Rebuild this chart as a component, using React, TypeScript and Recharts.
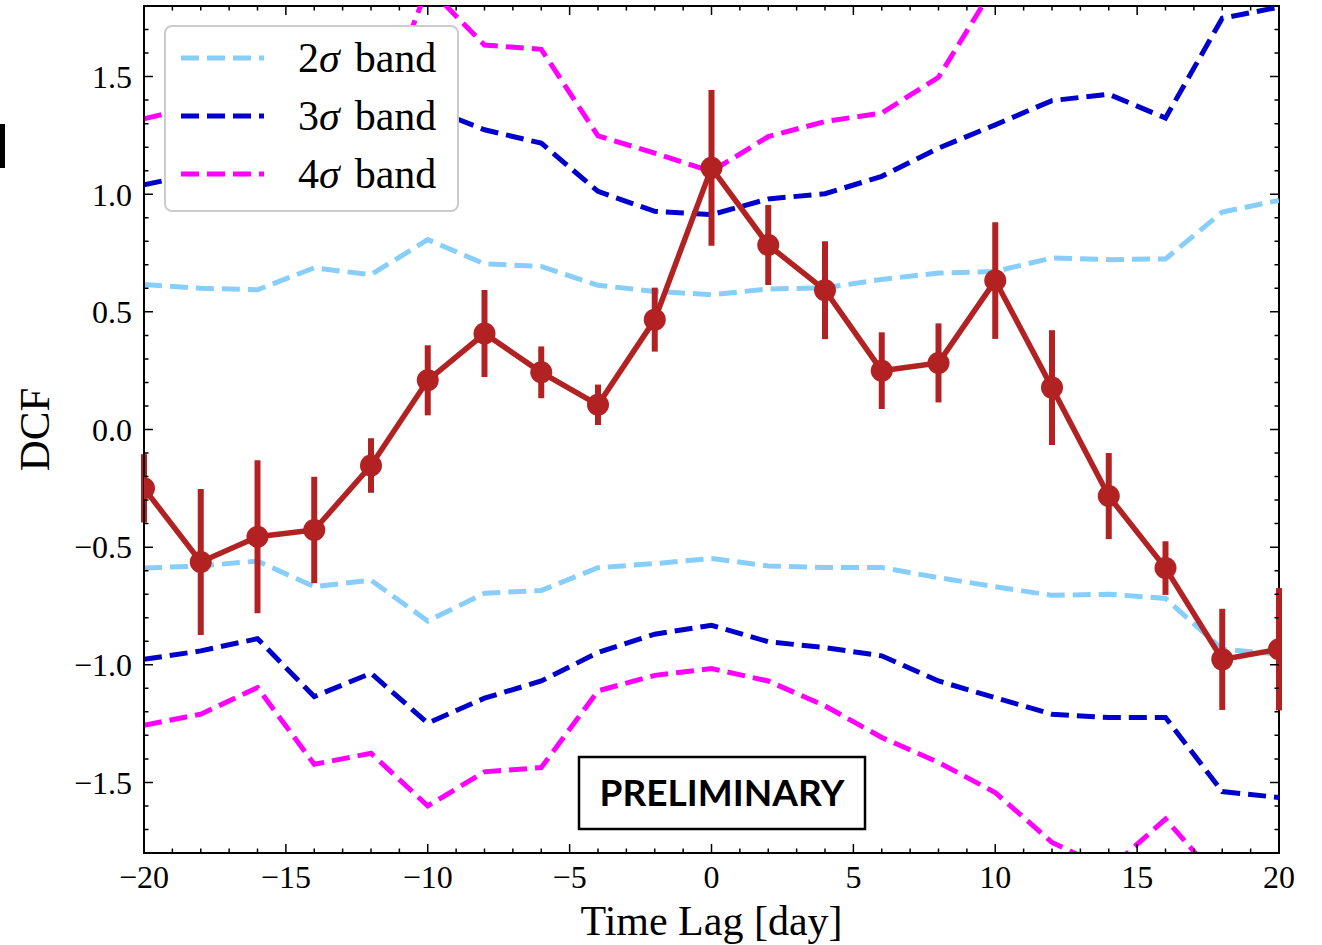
import React from "react";
import { LineChart, Line, XAxis, YAxis, ErrorBar, Label, ReferenceLine, ReferenceArea } from "recharts";

// lag grid (days)
const lags = [-20, -18, -16, -14, -12, -10, -8, -6, -4, -2, 0, 2, 4, 6, 8, 10, 12, 14, 16, 18, 20];

// discrete correlation function and its 1-sigma errors
const dcf = [-0.25, -0.563, -0.456, -0.427, -0.153, 0.209, 0.408, 0.243, 0.105, 0.467, 1.112, 0.784, 0.592, 0.25, 0.283, 0.633, 0.178, -0.283, -0.589, -0.977, -0.934];
const dcfErr = [0.145, 0.31, 0.325, 0.226, 0.116, 0.149, 0.185, 0.11, 0.086, 0.136, 0.331, 0.17, 0.208, 0.163, 0.168, 0.248, 0.244, 0.183, 0.114, 0.215, 0.26];

// significance bands from simulated light curves
const band2Up = [0.616, 0.6, 0.594, 0.687, 0.658, 0.807, 0.704, 0.693, 0.613, 0.587, 0.573, 0.597, 0.602, 0.638, 0.665, 0.672, 0.729, 0.722, 0.725, 0.924, 0.974];
const band2Lo = [-0.589, -0.58, -0.559, -0.668, -0.641, -0.814, -0.696, -0.684, -0.587, -0.57, -0.548, -0.58, -0.587, -0.587, -0.63, -0.668, -0.705, -0.7, -0.718, -0.934, -0.955];
const band3Up = [1.04, 1.09, 1.12, 1.26, 1.21, 1.37, 1.274, 1.217, 1.012, 0.927, 0.913, 0.98, 1.002, 1.076, 1.196, 1.295, 1.398, 1.425, 1.324, 1.748, 1.795];
const band3Lo = [-0.977, -0.941, -0.889, -1.135, -1.036, -1.248, -1.142, -1.069, -0.948, -0.87, -0.832, -0.902, -0.927, -0.962, -1.069, -1.14, -1.21, -1.224, -1.224, -1.539, -1.564];
const band4Up = [1.32, 1.38, 1.52, 1.47, 1.25, 1.88, 1.634, 1.616, 1.248, 1.175, 1.097, 1.245, 1.309, 1.345, 1.497, 1.89, 2.1, 2.2, 2.05, 2.35, 2.5];
const band4Lo = [-1.257, -1.21, -1.097, -1.423, -1.376, -1.6, -1.455, -1.437, -1.111, -1.045, -1.016, -1.069, -1.175, -1.309, -1.415, -1.543, -1.755, -1.87, -1.656, -1.93, -2.05];

// axis ticks
const xMajorTicks = [-20, -15, -10, -5, 0, 5, 10, 15, 20];
const xMinorTicks = [-19, -18, -17, -16, -14, -13, -12, -11, -9, -8, -7, -6, -4, -3, -2, -1, 1, 2, 3, 4, 6, 7, 8, 9, 11, 12, 13, 14, 16, 17, 18, 19];
const yMajorTicks = [-1.5, -1.0, -0.5, 0.0, 0.5, 1.0, 1.5];
const yMinorTicks = [-1.7, -1.6, -1.4, -1.3, -1.2, -1.1, -0.9, -0.8, -0.7, -0.6, -0.4, -0.3, -0.2, -0.1, 0.1, 0.2, 0.3, 0.4, 0.6, 0.7, 0.8, 0.9, 1.1, 1.2, 1.3, 1.4, 1.6, 1.7];

const bands = [
  { label: "2", color: "#87CEFA", up: "b2Up", lo: "b2Lo" },
  { label: "3", color: "#0000CD", up: "b3Up", lo: "b3Lo" },
  { label: "4", color: "#FF00FF", up: "b4Up", lo: "b4Lo" },
];

const W = 1322;
const H = 945;
const MARGIN = { top: 6, right: 43, bottom: 0, left: 0 };
const Y_AXIS_W = 144;
const X_AXIS_H = 92;
const PLOT_W = W - MARGIN.left - MARGIN.right - Y_AXIS_W;
const PLOT_H = H - MARGIN.top - MARGIN.bottom - X_AXIS_H;

const SERIF = '"Liberation Serif", "DejaVu Serif", serif';
const RED = "#B22222";
const DASH = "18 8";
const BAND_W = 5;
const X_DOMAIN: [number, number] = [-20, 20];
const Y_DOMAIN: [number, number] = [-1.8, 1.8];

const fmt = (v: number, digits: number) => {
  const s = Math.abs(v).toFixed(digits);
  return v < 0 ? `\u2212${s}` : s;
};

// a full-length line dashed so that only both ends show: inward ticks on opposite sides
const tickDash = (len: number, span: number) => `${len} ${span - 2 * len} ${len}`;

const tickFont = { fontFamily: SERIF, fontSize: 32, fill: "#000" };
const frame = { stroke: "#000", strokeWidth: 2 };

const XTitle = (props: any) => {
  const vb = props.viewBox || { x: 144, y: 853, width: PLOT_W, height: X_AXIS_H };
  return (
    <text x={vb.x + vb.width / 2} y={vb.y + vb.height - 10} textAnchor="middle" fontFamily={SERIF} fontSize={42} fill="#000">
      Time Lag [day]
    </text>
  );
};

const YTitle = (props: any) => {
  const vb = props.viewBox || { x: 0, y: MARGIN.top, width: Y_AXIS_W, height: PLOT_H };
  const cx = vb.x + 34;
  const cy = vb.y + vb.height / 2;
  return (
    <text x={cx} y={cy} transform={`rotate(-90, ${cx}, ${cy})`} textAnchor="middle" dominantBaseline="central" fontFamily={SERIF} fontSize={43} fill="#000">
      DCF
    </text>
  );
};

export default function App() {
  const data = lags.map((lag, i) => ({
    lag,
    dcf: dcf[i],
    dcfErr: dcfErr[i],
    b2Up: band2Up[i],
    b2Lo: band2Lo[i],
    b3Up: band3Up[i],
    b3Lo: band3Lo[i],
    b4Up: band4Up[i],
    b4Lo: band4Lo[i],
  }));

  return (
    <div style={{ position: "absolute", left: 0, top: 0, width: W, height: H, background: "#fff", overflow: "hidden" }}>
      <LineChart width={W} height={H} data={data} margin={MARGIN}>
        <XAxis xAxisId="x" dataKey="lag" type="number" domain={X_DOMAIN} allowDataOverflow ticks={xMajorTicks} interval={0}
          tickFormatter={(v: number) => fmt(v, 0)} tick={tickFont} tickLine={false} tickSize={0} tickMargin={12} height={X_AXIS_H} axisLine={frame}>
          <Label content={XTitle} />
        </XAxis>
        <YAxis yAxisId="y" type="number" domain={Y_DOMAIN} allowDataOverflow ticks={yMajorTicks} interval={0}
          tickFormatter={(v: number) => fmt(v, 1)} tick={tickFont} tickLine={false} tickSize={0} tickMargin={12} width={Y_AXIS_W} axisLine={frame}>
          <Label content={YTitle} />
        </YAxis>

        {bands.flatMap((b) => [
          <Line key={b.up} xAxisId="x" yAxisId="y" type="linear" dataKey={b.up} stroke={b.color} strokeWidth={BAND_W}
            strokeDasharray={DASH} dot={false} activeDot={false} isAnimationActive={false} />,
          <Line key={b.lo} xAxisId="x" yAxisId="y" type="linear" dataKey={b.lo} stroke={b.color} strokeWidth={BAND_W}
            strokeDasharray={DASH} dot={false} activeDot={false} isAnimationActive={false} />,
        ])}

        <Line xAxisId="x" yAxisId="y" type="linear" dataKey="dcf" stroke={RED} strokeWidth={5.5}
          dot={{ r: 11, fill: RED, stroke: "none" }} activeDot={false} isAnimationActive={false}>
          <ErrorBar dataKey="dcfErr" direction="y" width={0} stroke={RED} strokeWidth={6} isAnimationActive={false} />
        </Line>

        {/* inward ticks, bottom+top and left+right */}
        {xMajorTicks.map((v) => (
          <ReferenceLine key={`xM${v}`} xAxisId="x" yAxisId="y" x={v} stroke="#000" strokeWidth={1.5} strokeDasharray={tickDash(9, PLOT_H)} />
        ))}
        {xMinorTicks.map((v) => (
          <ReferenceLine key={`xm${v}`} xAxisId="x" yAxisId="y" x={v} stroke="#000" strokeWidth={1.5} strokeDasharray={tickDash(4.5, PLOT_H)} />
        ))}
        {yMajorTicks.map((v) => (
          <ReferenceLine key={`yM${v}`} xAxisId="x" yAxisId="y" y={v} stroke="#000" strokeWidth={1.5} strokeDasharray={tickDash(9, PLOT_W)} />
        ))}
        {yMinorTicks.map((v) => (
          <ReferenceLine key={`ym${v}`} xAxisId="x" yAxisId="y" y={v} stroke="#000" strokeWidth={1.5} strokeDasharray={tickDash(4.5, PLOT_W)} />
        ))}

        {/* plot frame */}
        <ReferenceArea xAxisId="x" yAxisId="y" x1={X_DOMAIN[0]} x2={X_DOMAIN[1]} y1={Y_DOMAIN[0]} y2={Y_DOMAIN[1]}
          fill="none" fillOpacity={0} stroke="#000" strokeWidth={2} />
      </LineChart>

      <svg width={W} height={H} style={{ position: "absolute", left: 0, top: 0, pointerEvents: "none" }}>
        {/* sliver of the neighbouring panel at the left edge */}
        <rect x={0} y={124} width={5} height={44} fill="#000" />

        {/* legend */}
        <rect x={165} y={26} width={293} height={185} rx={7} fill="#fff" stroke="#cccccc" strokeWidth={2} />
        {bands.map((b, i) => (
          <g key={b.label}>
            <line x1={181} x2={264} y1={58 + i * 58} y2={58 + i * 58} stroke={b.color} strokeWidth={BAND_W} strokeDasharray={DASH} />
            <text x={298} y={72 + i * 58} fontFamily={SERIF} fontSize={42} fill="#000">
              {b.label}
              <tspan fontStyle="italic">σ</tspan>
              <tspan dx={15}>band</tspan>
            </text>
          </g>
        ))}

        {/* preliminary stamp */}
        <rect x={579} y={757} width={286} height={72} fill="#fff" stroke="#000" strokeWidth={2.5} />
        <text x={722} y={806} textAnchor="middle" fontFamily="Lato, 'Open Sans', sans-serif" fontWeight={700} fontSize={37} fill="#000">
          PRELIMINARY
        </text>
      </svg>
    </div>
  );
}
